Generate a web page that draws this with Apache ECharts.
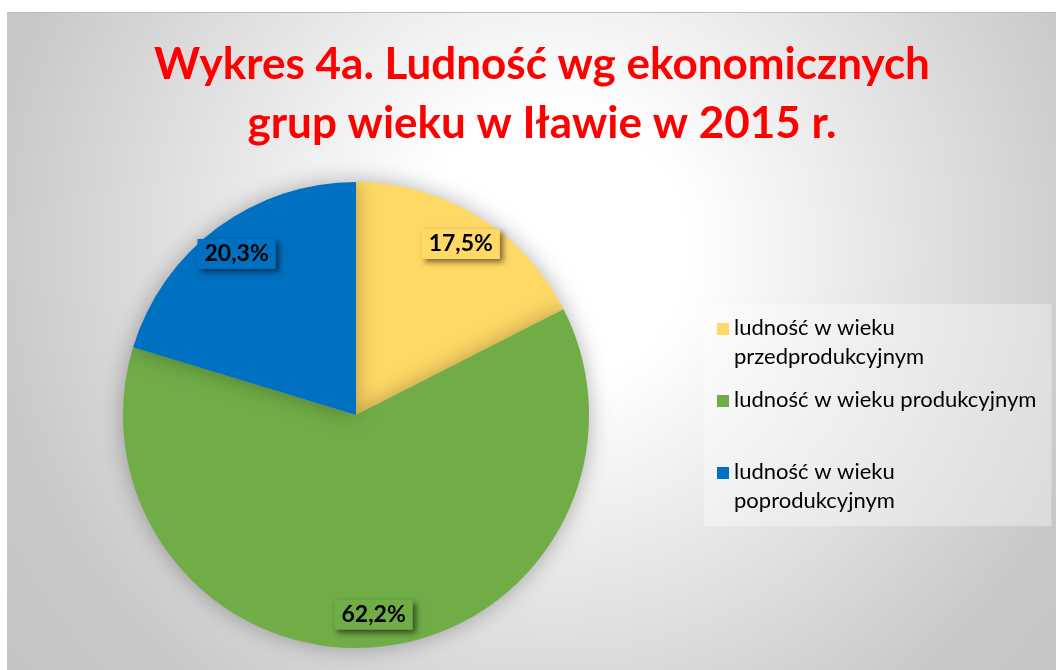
<!DOCTYPE html>
<html>
<head>
<meta charset="utf-8">
<script src="https://cdn.jsdelivr.net/npm/echarts@6/dist/echarts.min.js"></script>
<style>
  html, body { margin: 0; padding: 0; background: #fff; }
  #chart { position: absolute; left: 7px; top: 12px; width: 1049px; height: 658px; border-top: 1px solid #bdbdbd; box-sizing: border-box; }
</style>
</head>
<body>
<div id="chart"></div>
<script>
// dane z wykresu
const categories = ['ludność w wieku przedprodukcyjnym', 'ludność w wieku produkcyjnym', 'ludność w wieku poprodukcyjnym'];
const shares = [17.5, 62.2, 20.3];
const colors = ['#FFD966', '#70AD47', '#0070C0'];
const titleText = 'Wykres 4a. Ludność wg ekonomicznych\ngrup wieku w Iławie w 2015 r.';

const chart = echarts.init(document.getElementById('chart'));

// długie nazwy łamiemy po "wieku", jak w legendzie Excela
const wraps = name => name.length > 28;

const pieData = categories.map((name, i) => ({
    name: name,
    value: shares[i],
    itemStyle: { color: colors[i] }
}));

// osobna, przezroczysta seria tylko dla etykiet (bliżej krawędzi koła)
const labelData = categories.map((name, i) => ({
    name: name,
    value: shares[i],
    label: { backgroundColor: colors[i] }
}));

chart.setOption({
    backgroundColor: {
        type: 'radial', x: 0.52, y: 0.36, r: 1.06,
        colorStops: [
            { offset: 0, color: '#ffffff' },
            { offset: 0.2, color: '#ffffff' },
            { offset: 0.8, color: '#c9c9c9' },
            { offset: 1, color: '#c4c4c4' }
        ]
    },
    title: {
        text: titleText,
        left: 530,
        top: 17,
        textAlign: 'center',
        textStyle: {
            color: '#FF0000',
            fontFamily: 'Lato',
            fontWeight: 'bold',
            fontSize: 44,
            lineHeight: 59
        }
    },
    legend: {
        orient: 'vertical',
        left: 697,
        top: 291,
        padding: [10, 15, 14, 13],
        itemGap: 18,
        itemWidth: 12,
        itemHeight: 12,
        icon: 'rect',
        backgroundColor: 'rgba(255,255,255,0.35)',
        // każda pozycja ma dwie linie; pierwsza wyrównana do znacznika
        formatter: name => {
            if (!wraps(name)) return '{first|' + name + '}\n{second| }';
            const k = name.indexOf(' wieku ') + 6;
            return '{first|' + name.slice(0, k) + '}\n{second|' + name.slice(k + 1) + '}';
        },
        textStyle: {
            fontFamily: 'Lato', fontSize: 22, color: '#000',
            rich: {
                first: { fontFamily: 'Lato', fontSize: 22, lineHeight: 56, height: 28, verticalAlign: 'bottom' },
                second: { fontFamily: 'Lato', fontSize: 22, lineHeight: 30 }
            }
        },
        data: categories
    },
    series: [{
        type: 'pie',
        center: [349, 402],
        radius: [0, 233],
        startAngle: 90,
        clockwise: true,
        silent: true,
        label: { show: false },
        labelLine: { show: false },
        itemStyle: {
            shadowBlur: 22,
            shadowColor: 'rgba(0,0,0,0.3)'
        },
        data: pieData
    }, {
        type: 'pie',
        center: [349, 402],
        radius: [162, 233],
        startAngle: 90,
        clockwise: true,
        silent: true,
        itemStyle: { color: 'transparent' },
        label: {
            show: true,
            position: 'inside',
            formatter: p => p.value.toFixed(1).replace('.', ',') + '%',
            fontFamily: 'Lato',
            fontWeight: 'bold',
            fontSize: 23,
            lineHeight: 24,
            color: '#000',
            padding: [3, 7, 3, 7],
            shadowColor: 'rgba(0,0,0,0.55)',
            shadowBlur: 6,
            shadowOffsetX: 3,
            shadowOffsetY: 3
        },
        labelLine: { show: false },
        data: labelData
    }]
});

window.addEventListener('resize', () => chart.resize());
</script>
</body>
</html>
